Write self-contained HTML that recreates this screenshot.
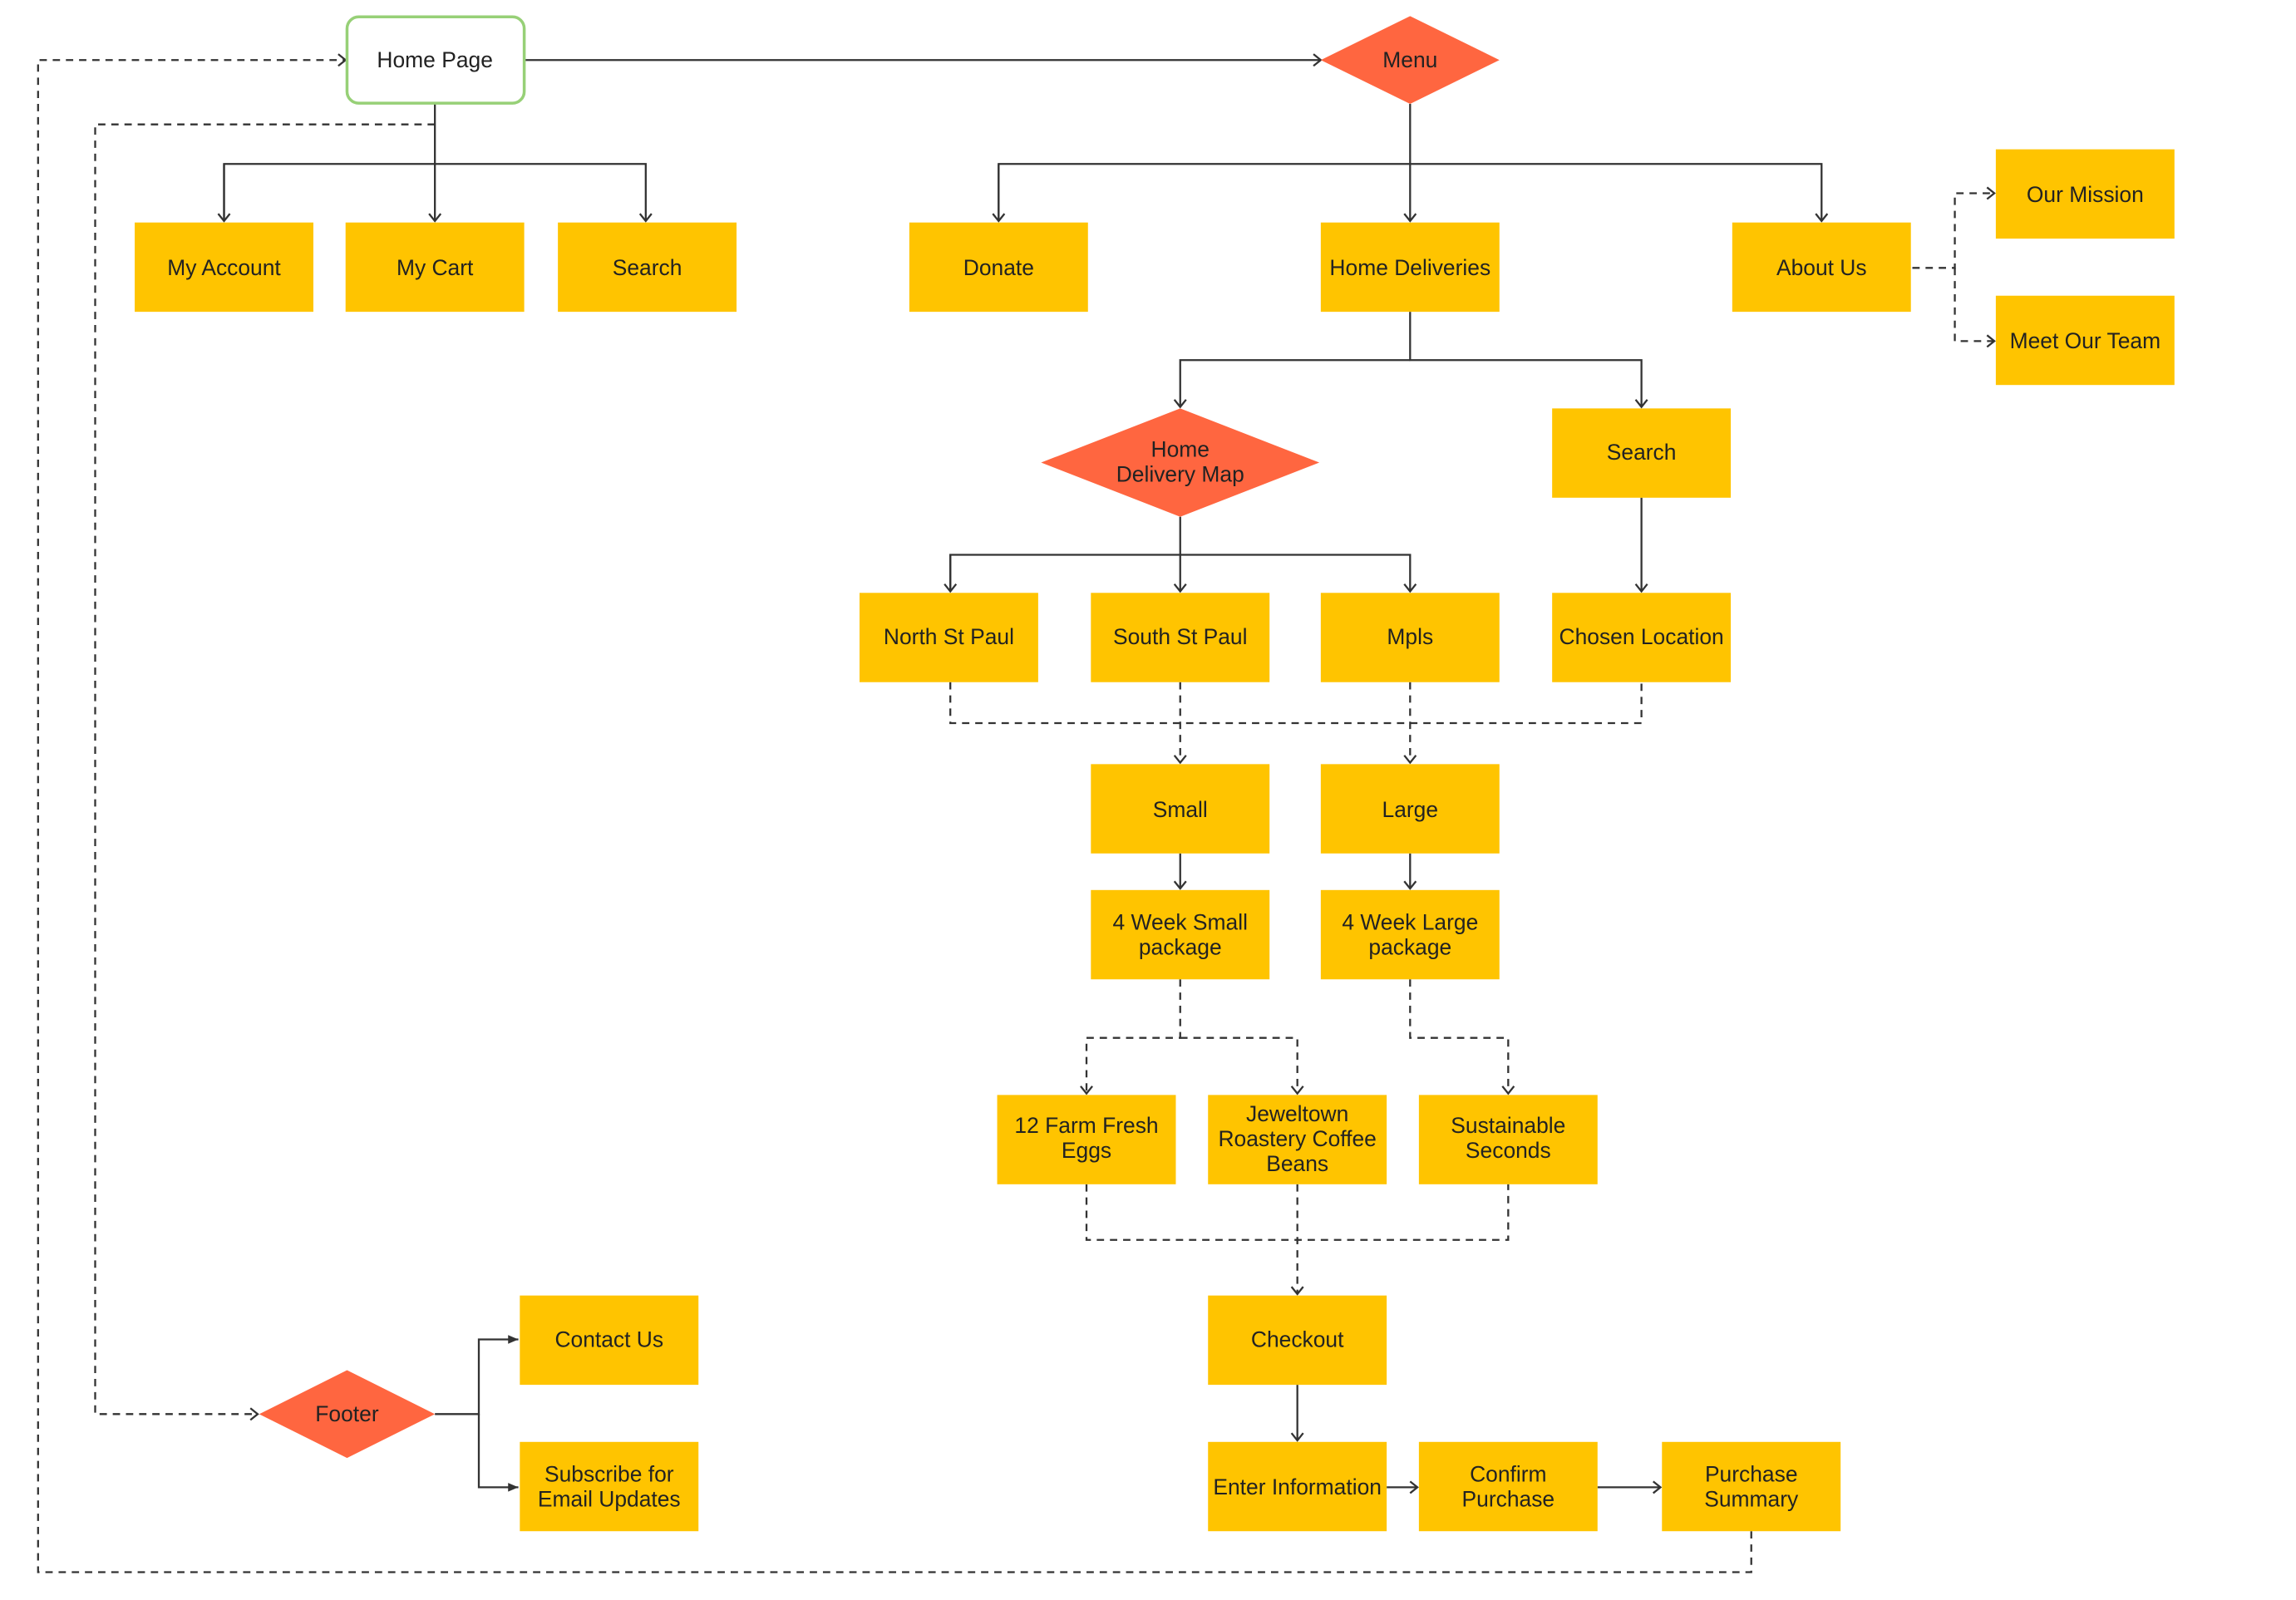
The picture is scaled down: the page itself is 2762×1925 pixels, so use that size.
<!DOCTYPE html>
<html><head><meta charset="utf-8"><style>
html,body{margin:0;padding:0;background:#fff;}
svg{display:block;}
text{font-family:"Liberation Sans",Arial,sans-serif;font-size:15px;fill:#222;text-anchor:middle;}
</style></head><body>
<svg width="2762" height="1925" viewBox="0 0 1568 1093" preserveAspectRatio="none" xmlns="http://www.w3.org/2000/svg">
<defs>
<marker id="a" markerUnits="userSpaceOnUse" markerWidth="12" markerHeight="12" refX="8" refY="5" orient="auto">
<path d="M3,1 L8,5 L3,9" fill="none" stroke="#333" stroke-width="1.3"/>
</marker>
<marker id="f" markerUnits="userSpaceOnUse" markerWidth="12" markerHeight="12" refX="8" refY="5" orient="auto">
<path d="M1,2 L8,5 L1,8 Z" fill="#333"/>
</marker>
</defs>
<g fill="none" stroke="#333" stroke-width="1.3">
<!-- solid -->
<path d="M358,41 H902" marker-end="url(#a)"/>
<path d="M297,71 V151" marker-end="url(#a)"/>
<path d="M153,151 V112 H441 V151" marker-end="url(#a)"/>
<path d="M153,112 V151" marker-end="url(#a)"/>
<path d="M963,71 V151" marker-end="url(#a)"/>
<path d="M682,151 V112 H1244 V151" marker-end="url(#a)"/>
<path d="M682,112 V151" marker-end="url(#a)"/>
<path d="M963,213 V246 H1121 V278" marker-end="url(#a)"/>
<path d="M963,246 H806 V278" marker-end="url(#a)"/>
<path d="M806,353 V404" marker-end="url(#a)"/>
<path d="M649,404 V379 H963 V404" marker-end="url(#a)"/>
<path d="M649,379 V404" marker-end="url(#a)"/>
<path d="M1121,340 V404" marker-end="url(#a)"/>
<path d="M806,583 V607" marker-end="url(#a)"/>
<path d="M963,583 V607" marker-end="url(#a)"/>
<path d="M886,946 V984" marker-end="url(#a)"/>
<path d="M947,1016 H968" marker-end="url(#a)"/>
<path d="M1091,1016 H1134" marker-end="url(#a)"/>
<path d="M297,966 H327 V915 H354" marker-end="url(#f)"/>
<path d="M327,966 V1016 H354" marker-end="url(#f)"/>
</g>
<g fill="none" stroke="#333" stroke-width="1.3" stroke-dasharray="5,4">
<path d="M1196,1046 V1074 H26 V41 H236" marker-end="url(#a)"/>
<path d="M297,85 H65 V966 H176" marker-end="url(#a)"/>
<path d="M1306,183 H1335 V132 H1362" marker-end="url(#a)"/>
<path d="M1335,183 V233 H1362" marker-end="url(#a)"/>
<path d="M649,466 V494 H1121 V466"/>
<path d="M806,466 V521" marker-end="url(#a)"/>
<path d="M963,466 V521" marker-end="url(#a)"/>
<path d="M806,669 V709 H742 V747" marker-end="url(#a)"/>
<path d="M963,669 V709 H1030 V747" marker-end="url(#a)"/>
<path d="M806,709 H886 V747" marker-end="url(#a)"/>
<path d="M742,809 V847 H1030 V809"/>
<path d="M886,809 V884" marker-end="url(#a)"/>
</g>
<!-- Home page -->
<rect x="237" y="11.5" width="121" height="59" rx="8" fill="#fff" stroke="#97D077" stroke-width="2"/>
<text x="297" y="46">Home Page</text>
<!-- diamonds -->
<g fill="#FF6640">
<polygon points="963,11 1024,41 963,71 902,41"/>
<polygon points="806,279 901,316 806,353 711,316"/>
<polygon points="237,936 297,966 237,996 177,966"/>
</g>
<text x="963" y="46">Menu</text>
<text x="806" y="312">Home</text><text x="806" y="329">Delivery Map</text>
<text x="237" y="971">Footer</text>
<!-- boxes -->
<g fill="#FFC400">
<rect x="92" y="152" width="122" height="61"/>
<rect x="236" y="152" width="122" height="61"/>
<rect x="381" y="152" width="122" height="61"/>
<rect x="621" y="152" width="122" height="61"/>
<rect x="902" y="152" width="122" height="61"/>
<rect x="1183" y="152" width="122" height="61"/>
<rect x="1363" y="102" width="122" height="61"/>
<rect x="1363" y="202" width="122" height="61"/>
<rect x="1060" y="279" width="122" height="61"/>
<rect x="587" y="405" width="122" height="61"/>
<rect x="745" y="405" width="122" height="61"/>
<rect x="902" y="405" width="122" height="61"/>
<rect x="1060" y="405" width="122" height="61"/>
<rect x="745" y="522" width="122" height="61"/>
<rect x="902" y="522" width="122" height="61"/>
<rect x="745" y="608" width="122" height="61"/>
<rect x="902" y="608" width="122" height="61"/>
<rect x="681" y="748" width="122" height="61"/>
<rect x="825" y="748" width="122" height="61"/>
<rect x="969" y="748" width="122" height="61"/>
<rect x="825" y="885" width="122" height="61"/>
<rect x="825" y="985" width="122" height="61"/>
<rect x="969" y="985" width="122" height="61"/>
<rect x="1135" y="985" width="122" height="61"/>
<rect x="355" y="885" width="122" height="61"/>
<rect x="355" y="985" width="122" height="61"/>
</g>
<text x="153" y="188">My Account</text>
<text x="297" y="188">My Cart</text>
<text x="442" y="188">Search</text>
<text x="682" y="188">Donate</text>
<text x="963" y="188">Home Deliveries</text>
<text x="1244" y="188">About Us</text>
<text x="1424" y="138">Our Mission</text>
<text x="1424" y="238">Meet Our Team</text>
<text x="1121" y="314">Search</text>
<text x="648" y="440">North St Paul</text>
<text x="806" y="440">South St Paul</text>
<text x="963" y="440">Mpls</text>
<text x="1121" y="440">Chosen Location</text>
<text x="806" y="558">Small</text>
<text x="963" y="558">Large</text>
<text x="806" y="635">4 Week Small</text><text x="806" y="652">package</text>
<text x="963" y="635">4 Week Large</text><text x="963" y="652">package</text>
<text x="742" y="774">12 Farm Fresh</text><text x="742" y="791">Eggs</text>
<text x="886" y="766">Jeweltown</text><text x="886" y="783">Roastery Coffee</text><text x="886" y="800">Beans</text>
<text x="1030" y="774">Sustainable</text><text x="1030" y="791">Seconds</text>
<text x="886" y="920">Checkout</text>
<text x="886" y="1021">Enter Information</text>
<text x="1030" y="1012">Confirm</text><text x="1030" y="1029">Purchase</text>
<text x="1196" y="1012">Purchase</text><text x="1196" y="1029">Summary</text>
<text x="416" y="920">Contact Us</text>
<text x="416" y="1012">Subscribe for</text><text x="416" y="1029">Email Updates</text>
</svg>
</body></html>
